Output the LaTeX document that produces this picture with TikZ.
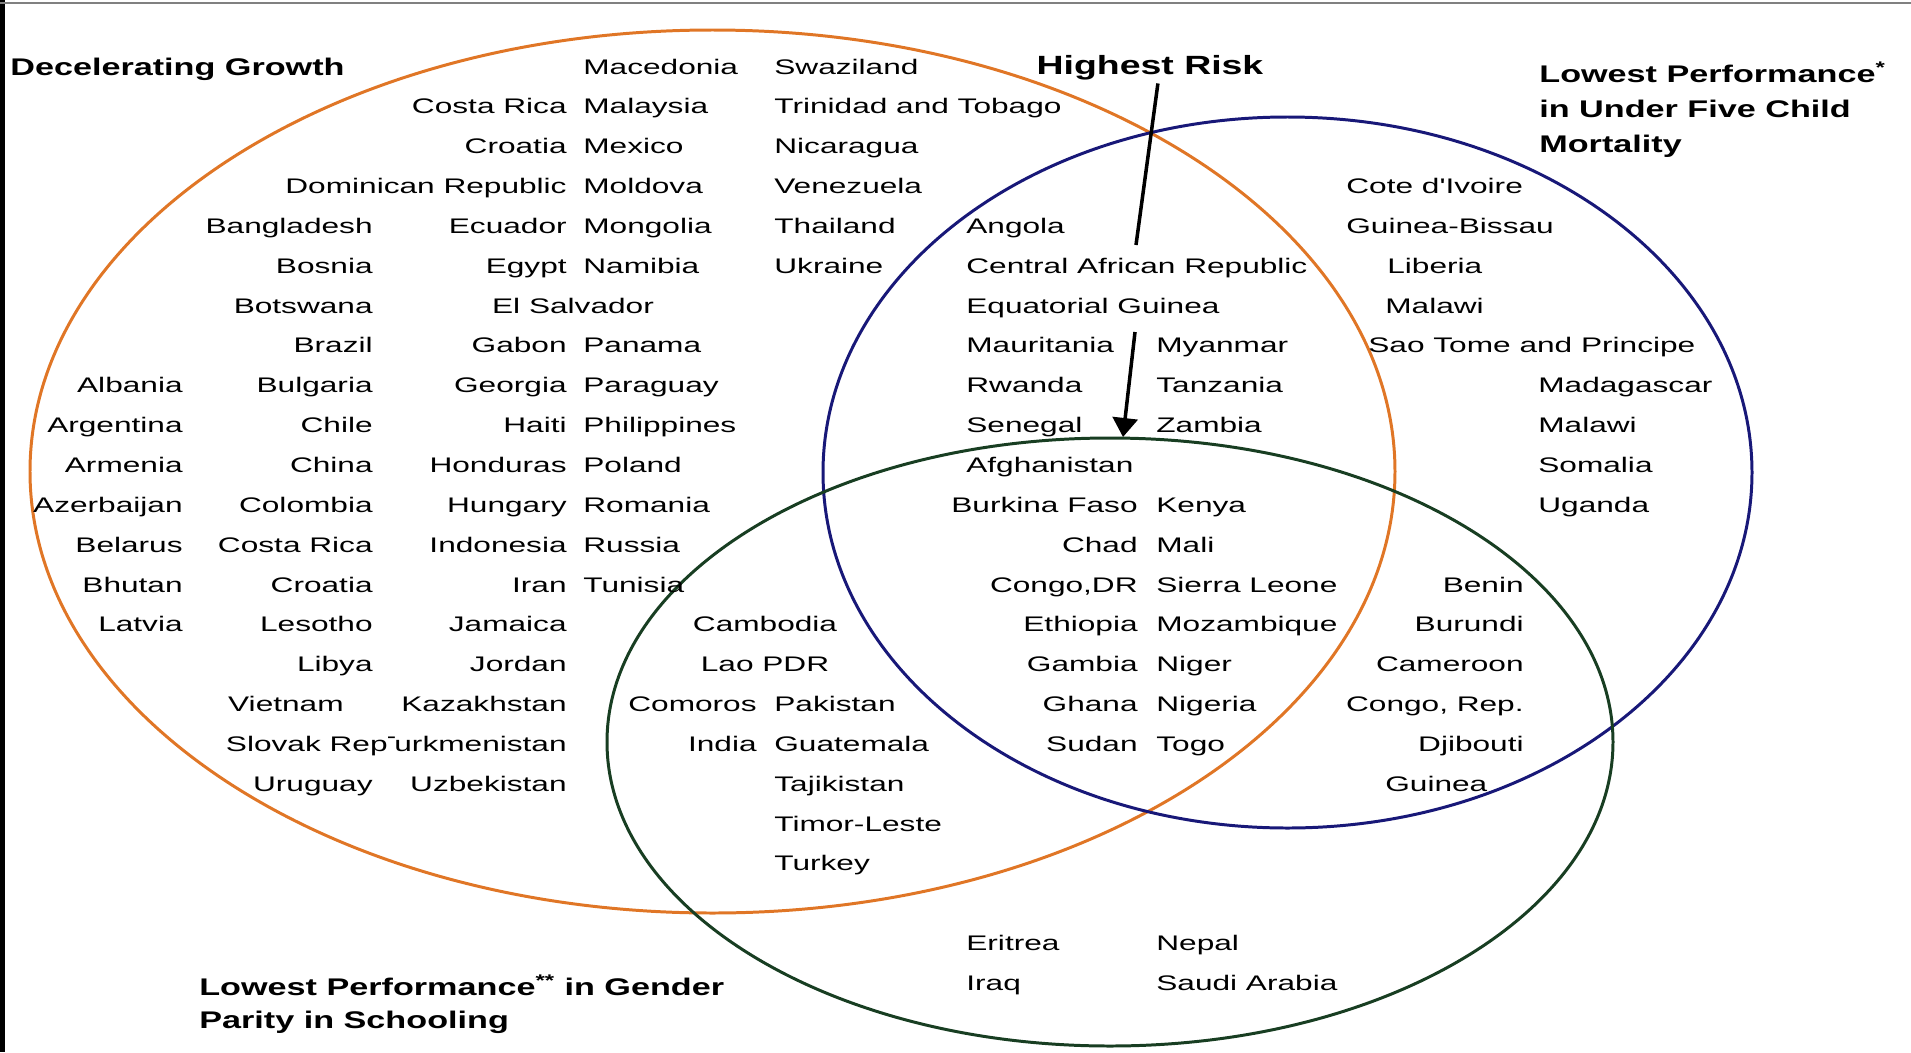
\documentclass[tikz,border=0pt]{standalone}
\usepackage{fontspec}
\setmainfont{Liberation Sans}
\newfontfamily\ctyfont{Liberation Sans}[FakeStretch=1.5]
\newfontfamily\ttlfont{Liberation Sans}[FakeStretch=1.42]
\usetikzlibrary{arrows.meta}
\definecolor{growthorange}{RGB}{224,118,38}
\definecolor{mortblue}{RGB}{24,24,120}
\definecolor{gendergreen}{RGB}{24,62,34}

\begin{document}
\begin{tikzpicture}[x=0.02cm,y=-0.02cm,
  cty/.style={font=\ctyfont\fontsize{12}{14}\selectfont, inner sep=0pt},
  ttl/.style={font=\ttlfont\bfseries\fontsize{13.7}{18.5}\selectfont, inner sep=0pt, align=left},
  risk/.style={ttl, font=\ttlfont\bfseries\fontsize{15}{18}\selectfont},
  ring/.style={line width=1.7pt},
  pointer/.style={line width=2pt}]
\useasboundingbox (0,0) rectangle (1911,1052);
\fill[black] (0,0) rectangle (5,1052);
\draw[gray, line width=1pt] (0,3) -- (1911,3);

% the three sets
\draw[ring, growthorange] (712.5,471.5) ellipse [x radius=682.5, y radius=441.5];
\draw[ring, mortblue] (1287.5,472.5) ellipse [x radius=464.5, y radius=355.5];
\draw[ring, gendergreen] (1110,742) ellipse [x radius=503, y radius=304];

% titles (base = last line)
\node[ttl, anchor=base west] (growth) at (10,75) {Decelerating Growth};
\node[risk, anchor=base] (hr) at (1150,74) {Highest Risk};
\node[ttl, font=\ttlfont\bfseries\fontsize{13.7}{19.8}\selectfont, anchor=base west] (mort) at (1539,152) {Lowest Performance\textsuperscript{*}\\in Under Five Child\\Mortality};
\node[ttl, anchor=base west] (gender) at (199,1028) {Lowest Performance\textsuperscript{**} in Gender\\Parity in Schooling};

% pointers to the middle
\coordinate (hrend) at (1136,245);
\draw[pointer] ([xshift=4.5pt,yshift=-2pt]hr.south) -- (hrend);
\coordinate (arrtop) at (1135,332);
\coordinate (arrtip) at (1123,437);
\draw[pointer, -{Triangle[width=0.5cm,length=0.38cm]}] (arrtop) -- (arrtip);

% decelerating growth only
\node[cty, anchor=base east] (alb) at (183,392) {Albania};
\node[cty, anchor=base east] (arg) at (183,432) {Argentina};
\node[cty, anchor=base east] (arm) at (183,472) {Armenia};
\node[cty, anchor=base east] (aze) at (183,512) {Azerbaijan};
\node[cty, anchor=base east] (blr) at (183,552) {Belarus};
\node[cty, anchor=base east] (btn) at (183,592) {Bhutan};
\node[cty, anchor=base east] (lva) at (183,631) {Latvia};

\node[cty, anchor=base east] (bgd) at (373,233) {Bangladesh};
\node[cty, anchor=base east] (bih) at (373,273) {Bosnia};
\node[cty, anchor=base east] (bwa) at (373,313) {Botswana};
\node[cty, anchor=base east] (bra) at (373,352) {Brazil};
\node[cty, anchor=base east] (bgr) at (373,392) {Bulgaria};
\node[cty, anchor=base east] (chl) at (373,432) {Chile};
\node[cty, anchor=base east] (chn) at (373,472) {China};
\node[cty, anchor=base east] (col) at (373,512) {Colombia};
\node[cty, anchor=base east] (cri2) at (373,552) {Costa Rica};
\node[cty, anchor=base east] (hrv2) at (373,592) {Croatia};
\node[cty, anchor=base east] (lso) at (373,631) {Lesotho};
\node[cty, anchor=base east] (lby) at (373,671) {Libya};
\node[cty, anchor=base east] (vnm) at (344,711) {Vietnam};
\node[cty, anchor=base east] (ury) at (373,791) {Uruguay};

\node[cty, anchor=base east] (cri) at (567,113) {Costa Rica};
\node[cty, anchor=base east] (hrv) at (567,153) {Croatia};
\node[cty, anchor=base east] (dom) at (567,193) {Dominican Republic};
\node[cty, anchor=base east] (ecu) at (567,233) {Ecuador};
\node[cty, anchor=base east] (egy) at (567,273) {Egypt};
\node[cty, anchor=base] (slv) at (573,313) {El Salvador};
\node[cty, anchor=base east] (gab) at (567,352) {Gabon};
\node[cty, anchor=base east] (geo) at (567,392) {Georgia};
\node[cty, anchor=base east] (hti) at (567,432) {Haiti};
\node[cty, anchor=base east] (hnd) at (567,472) {Honduras};
\node[cty, anchor=base east] (hun) at (567,512) {Hungary};
\node[cty, anchor=base east] (idn) at (567,552) {Indonesia};
\node[cty, anchor=base east] (irn) at (567,592) {Iran};
\node[cty, anchor=base east] (jam) at (567,631) {Jamaica};
\node[cty, anchor=base east] (jor) at (567,671) {Jordan};
\node[cty, anchor=base east] (kaz) at (567,711) {Kazakhstan};
\node[cty, anchor=base east] (tkm) at (567,751) {Turkmenistan};
\node[cty, anchor=base east] (uzb) at (567,791) {Uzbekistan};
\node[cty, anchor=base east, fill=white] (svk) at (388,751) {Slovak Rep\hspace{0.4cm}};

\node[cty, anchor=base west] (mkd) at (583,74) {Macedonia};
\node[cty, anchor=base west] (mys) at (583,113) {Malaysia};
\node[cty, anchor=base west] (mex) at (583,153) {Mexico};
\node[cty, anchor=base west] (mda) at (583,193) {Moldova};
\node[cty, anchor=base west] (mng) at (583,233) {Mongolia};
\node[cty, anchor=base west] (nam) at (583,273) {Namibia};
\node[cty, anchor=base west] (pan) at (583,352) {Panama};
\node[cty, anchor=base west] (pry) at (583,392) {Paraguay};
\node[cty, anchor=base west] (phl) at (583,432) {Philippines};
\node[cty, anchor=base west] (pol) at (583,472) {Poland};
\node[cty, anchor=base west] (rou) at (583,512) {Romania};
\node[cty, anchor=base west] (rus) at (583,552) {Russia};
\node[cty, anchor=base west] (tun) at (583,592) {Tunisia};

\node[cty, anchor=base west] (swz) at (774,74) {Swaziland};
\node[cty, anchor=base west] (tto) at (774,113) {Trinidad and Tobago};
\node[cty, anchor=base west] (nic) at (774,153) {Nicaragua};
\node[cty, anchor=base west] (ven) at (774,193) {Venezuela};
\node[cty, anchor=base west] (tha) at (774,233) {Thailand};
\node[cty, anchor=base west] (ukr) at (774,273) {Ukraine};

% growth and mortality, then all three
\node[cty, anchor=base west] (ago) at (966,233) {Angola};
\node[cty, anchor=base west] (caf) at (966,273) {Central African Republic};
\node[cty, anchor=base west] (gnq) at (966,313) {Equatorial Guinea};
\node[cty, anchor=base west] (mrt) at (966,352) {Mauritania};
\node[cty, anchor=base west] (rwa) at (966,392) {Rwanda};
\node[cty, anchor=base west] (sen) at (966,432) {Senegal};
\node[cty, anchor=base west] (mmr) at (1156,352) {Myanmar};
\node[cty, anchor=base west] (tza) at (1156,392) {Tanzania};
\node[cty, anchor=base west] (zmb) at (1156,432) {Zambia};

\node[cty, anchor=base west] (afg) at (966,472) {Afghanistan};
\node[cty, anchor=base east] (bfa) at (1138,512) {Burkina Faso};
\node[cty, anchor=base east] (tcd) at (1138,552) {Chad};
\node[cty, anchor=base east] (cod) at (1138,592) {Congo,DR};
\node[cty, anchor=base east] (eth) at (1138,631) {Ethiopia};
\node[cty, anchor=base east] (gmb) at (1138,671) {Gambia};
\node[cty, anchor=base east] (gha) at (1138,711) {Ghana};
\node[cty, anchor=base east] (sdn) at (1138,751) {Sudan};
\node[cty, anchor=base west] (ken) at (1156,512) {Kenya};
\node[cty, anchor=base west] (mli) at (1156,552) {Mali};
\node[cty, anchor=base west] (sle) at (1156,592) {Sierra Leone};
\node[cty, anchor=base west] (moz) at (1156,631) {Mozambique};
\node[cty, anchor=base west] (ner) at (1156,671) {Niger};
\node[cty, anchor=base west] (nga) at (1156,711) {Nigeria};
\node[cty, anchor=base west] (tgo) at (1156,751) {Togo};

% mortality only
\node[cty, anchor=base west] (civ) at (1346,193) {Cote d'Ivoire};
\node[cty, anchor=base west] (gnb) at (1346,233) {Guinea-Bissau};
\node[cty, anchor=base west] (lbr) at (1387,273) {Liberia};
\node[cty, anchor=base west] (mwi) at (1385,313) {Malawi};
\node[cty, anchor=base west] (stp) at (1368,352) {Sao Tome and Principe};
\node[cty, anchor=base west] (mdg) at (1538,392) {Madagascar};
\node[cty, anchor=base west] (mwi2) at (1538,432) {Malawi};
\node[cty, anchor=base west] (som) at (1538,472) {Somalia};
\node[cty, anchor=base west] (uga) at (1538,512) {Uganda};

% mortality and gender
\node[cty, anchor=base east] (ben) at (1524,592) {Benin};
\node[cty, anchor=base east] (bdi) at (1524,631) {Burundi};
\node[cty, anchor=base east] (cmr) at (1524,671) {Cameroon};
\node[cty, anchor=base east] (cog) at (1524,711) {Congo, Rep.};
\node[cty, anchor=base east] (dji) at (1524,751) {Djibouti};
\node[cty, anchor=base west] (gin) at (1385,791) {Guinea};

% growth and gender
\node[cty, anchor=base] (khm) at (765,631) {Cambodia};
\node[cty, anchor=base] (lao) at (765,671) {Lao PDR};
\node[cty, anchor=base east] (com) at (757,711) {Comoros};
\node[cty, anchor=base east] (ind) at (757,751) {India};
\node[cty, anchor=base west] (pak) at (774,711) {Pakistan};
\node[cty, anchor=base west] (gtm) at (774,751) {Guatemala};
\node[cty, anchor=base west] (tjk) at (774,791) {Tajikistan};
\node[cty, anchor=base west] (tls) at (774,831) {Timor-Leste};
\node[cty, anchor=base west] (tur) at (774,870) {Turkey};

% gender only
\node[cty, anchor=base west] (eri) at (966,950) {Eritrea};
\node[cty, anchor=base west] (irq) at (966,990) {Iraq};
\node[cty, anchor=base west] (npl) at (1156,950) {Nepal};
\node[cty, anchor=base west] (sau) at (1156,990) {Saudi Arabia};
\end{tikzpicture}
\end{document}
